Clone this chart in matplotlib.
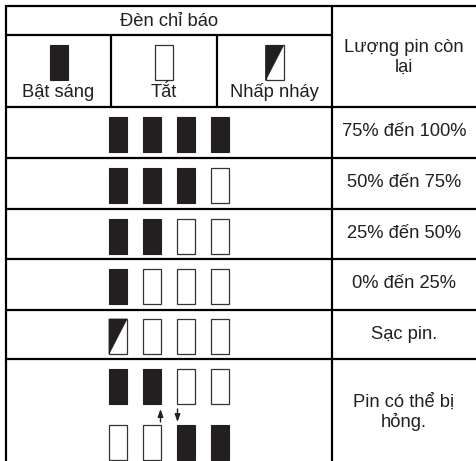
import matplotlib
matplotlib.use("Agg")
import matplotlib.pyplot as plt
from matplotlib.patches import Rectangle, Polygon

plt.rcParams['font.family'] = ['Liberation Sans', 'DejaVu Sans']

# ---- data ----
header_title = "Đèn chỉ báo"
legend_labels = ["Bật sáng", "Tắt", "Nhấp nháy"]
legend_states = ["on", "off", "blink"]
remaining_header = ["Lượng pin còn", "lại"]
level_labels = ["75% đến 100%", "50% đến 75%", "25% đến 50%", "0% đến 25%", "Sạc pin."]
level_states = [
    ["on", "on", "on", "on"],
    ["on", "on", "on", "off"],
    ["on", "on", "off", "off"],
    ["on", "off", "off", "off"],
    ["blink", "off", "off", "off"],
]
fault_top = ["on", "on", "off", "off"]
fault_bottom = ["off", "off", "on", "on"]
fault_label = ["Pin có thể bị", "hỏng."]

# ---- layout (pixels) ----
W, H = 476, 461
INK = '#231f20'
LW = 1.6
FS = 13.2
X_LEFT, X_DIV, X_RIGHT = 6, 332, 476
Y_TOP, Y_HDR, Y_SUB = 6, 35, 107
SUB_DIVS = [111, 217]
ROW_EDGES = [107, 158, 209, 259, 310, 359]
BAR_W, BAR_H, BAR_STEP = 18, 35, 34

fig = plt.figure(figsize=(W / 100, H / 100), dpi=100)
ax = fig.add_axes([0, 0, 1, 1])
ax.set_xlim(0, W)
ax.set_ylim(H, 0)
ax.axis('off')


def draw_led(xc, yc, state):
    x0, y0 = xc - BAR_W / 2, yc - BAR_H / 2
    if state == "on":
        ax.add_patch(Rectangle((x0, y0), BAR_W, BAR_H, facecolor=INK, edgecolor=INK, lw=0.8))
    elif state == "off":
        ax.add_patch(Rectangle((x0, y0), BAR_W, BAR_H, facecolor='white', edgecolor='#333333', lw=0.9))
    else:
        ax.add_patch(Rectangle((x0, y0), BAR_W, BAR_H, facecolor='white', edgecolor='#333333', lw=0.9))
        ax.add_patch(Polygon([(x0, y0), (x0 + BAR_W, y0), (x0, y0 + BAR_H)],
                             closed=True, facecolor=INK, edgecolor=INK, lw=0.5))


def hline(y, x0, x1):
    ax.plot([x0, x1], [y, y], color='black', lw=LW, solid_capstyle='butt')


def vline(x, y0, y1):
    ax.plot([x, x], [y0, y1], color='black', lw=LW, solid_capstyle='butt')


# grid lines
hline(Y_TOP, X_LEFT - 1, X_RIGHT)
hline(Y_HDR, X_LEFT, X_DIV)
for y in ROW_EDGES:
    hline(y, X_LEFT, X_RIGHT)
vline(X_LEFT, Y_TOP - 1, H)
vline(X_DIV, Y_TOP, H)
for x in SUB_DIVS:
    vline(x, Y_HDR, Y_SUB)

# header
ax.text((X_LEFT + X_DIV) / 2, (Y_TOP + Y_HDR) / 2 + 1, header_title, ha='center', va='center',
        fontsize=FS, color=INK)
sub_edges = [X_LEFT] + SUB_DIVS + [X_DIV]
for i, (lab, st) in enumerate(zip(legend_labels, legend_states)):
    xc = (sub_edges[i] + sub_edges[i + 1]) / 2
    draw_led(xc, 63, st)
    ax.text(xc, 97, lab, ha='center', va='baseline', fontsize=FS, color=INK)
right_c = (X_DIV + X_RIGHT) / 2
for k, line in enumerate(remaining_header):
    ax.text(right_c, 52 + k * 19.5, line, ha='center', va='baseline', fontsize=FS, color=INK)

# level rows
left_c = (X_LEFT + X_DIV) / 2
for r, (lab, states) in enumerate(zip(level_labels, level_states)):
    top, bot = ROW_EDGES[r], ROW_EDGES[r + 1]
    mid = (top + bot) / 2
    for j, st in enumerate(states):
        draw_led(left_c + (j - 1.5) * BAR_STEP, mid + 2, st)
    ax.text(right_c, top + 28.5, lab, ha='center', va='baseline', fontsize=FS, color=INK)

# fault row
top = ROW_EDGES[-1]
for j, st in enumerate(fault_top):
    draw_led(left_c + (j - 1.5) * BAR_STEP, top + 27, st)
for j, st in enumerate(fault_bottom):
    draw_led(left_c + (j - 1.5) * BAR_STEP, top + 83.5, st)
xa = left_c - 0.5 * BAR_STEP + BAR_W / 2 - 0.5
xb = left_c + 0.5 * BAR_STEP - BAR_W / 2 + 0.5
astyle = dict(arrowstyle='-|>,head_length=0.45,head_width=0.16', color=INK, lw=1.0,
              shrinkA=0, shrinkB=0)
ax.annotate('', xy=(xa, top + 50), xytext=(xa, top + 63), arrowprops=astyle)
ax.annotate('', xy=(xb, top + 63), xytext=(xb, top + 50), arrowprops=astyle)
for k, line in enumerate(fault_label):
    ax.text(right_c, top + 48 + k * 20, line, ha='center', va='baseline', fontsize=FS, color=INK)

fig.savefig('out.png', dpi=100)
